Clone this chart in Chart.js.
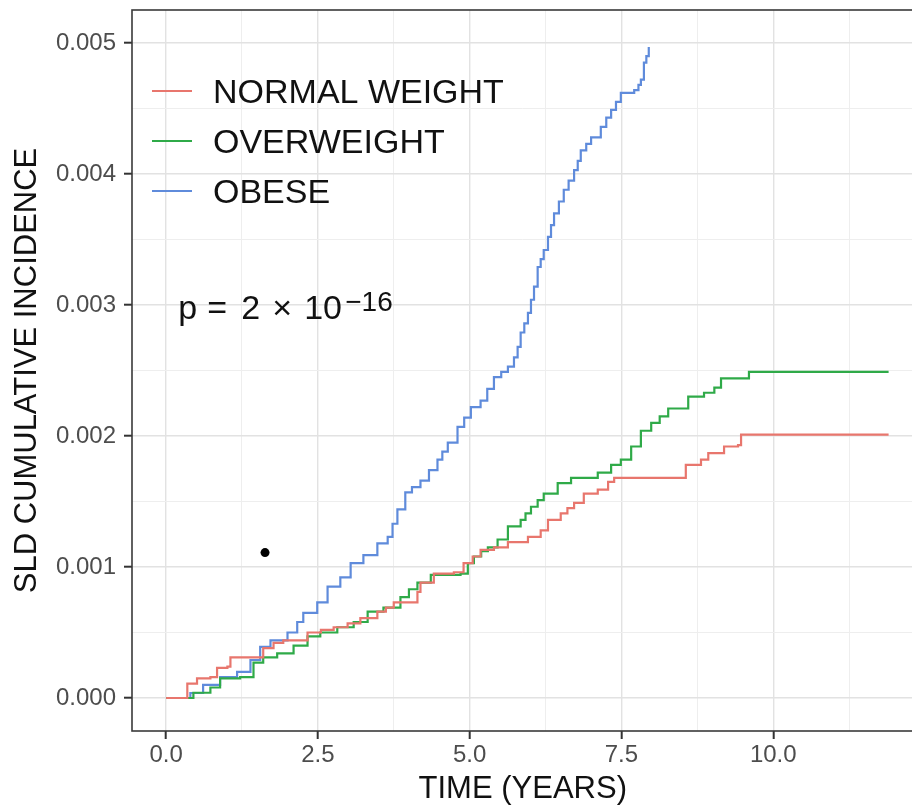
<!DOCTYPE html>
<html>
<head>
<meta charset="utf-8">
<script src="https://cdn.jsdelivr.net/npm/chart.js@4.4.1/dist/chart.umd.min.js"></script>
<style>
  html, body { margin: 0; padding: 0; background: #fff; overflow: hidden; }
  /* panel runs past the right edge, as in the cropped original */
  #wrap { width: 912px; height: 809px; overflow: hidden; }
</style>
</head>
<body>
<div id="wrap"><canvas id="sldChart" width="918" height="809"></canvas></div>
<script>
// ---- data ----
const groups = ['NORMAL WEIGHT', 'OVERWEIGHT', 'OBESE'];

const normalTime = [0, 0.35, 0.51, 0.73, 0.84, 1.01, 1.06, 1.60, 1.77, 1.93, 2.33, 2.55, 2.76, 2.99, 3.20, 3.48, 3.62, 3.75,
  4.14, 4.19, 4.41, 4.74, 4.90, 5.05, 5.18, 5.40, 5.63, 5.96, 6.17, 6.29, 6.50, 6.61, 6.72, 6.88, 7.11, 7.28, 7.38,
  8.56, 8.81, 8.93, 9.19, 9.42, 9.47, 11.90];
const normalInc = [0, 0.00011, 0.00015, 0.00016, 0.00023, 0.00024, 0.00031, 0.00038, 0.00042, 0.00044, 0.00050,
  0.00052, 0.00054, 0.00057, 0.00061, 0.00066, 0.00069, 0.00073, 0.00081, 0.00088, 0.00095, 0.00096, 0.00103, 0.00108,
  0.00113, 0.00115, 0.00119, 0.00123, 0.00128, 0.00136, 0.00141, 0.00145, 0.00149, 0.00156, 0.00159, 0.00165, 0.00168,
  0.00178, 0.00182, 0.00187, 0.00192, 0.00193, 0.00201, 0.00201];

const overTime = [0, 0.45, 0.73, 0.89, 1.22, 1.44, 1.60, 1.83, 2.10, 2.33, 2.54, 2.82, 3.09, 3.32, 3.58, 3.86,
  4.00, 4.14, 4.36, 4.85, 4.97, 5.07, 5.19, 5.30, 5.46, 5.63, 5.84, 5.92, 6.01, 6.12, 6.22, 6.45, 6.67, 7.11, 7.33,
  7.49, 7.66, 7.82, 7.99, 8.13, 8.27, 8.60, 8.86, 9.03, 9.14, 9.60, 11.90];
const overInc = [0, 0.00004, 0.00008, 0.00015, 0.00016, 0.00027, 0.00031, 0.00034, 0.00040, 0.00047, 0.00050,
  0.00054, 0.00058, 0.00066, 0.00069, 0.00077, 0.00083, 0.00088, 0.00094, 0.00095, 0.00103, 0.00108, 0.00112,
  0.00115, 0.00121, 0.00131, 0.00136, 0.00141, 0.00146, 0.00151, 0.00156, 0.00164, 0.00168, 0.00172, 0.00178,
  0.00182, 0.00192, 0.00204, 0.00210, 0.00215, 0.00221, 0.00230, 0.00233, 0.00237, 0.00244, 0.00249, 0.00249];

const obeseTime = [0, 0.40, 0.61, 0.89, 1.17, 1.39, 1.55, 1.72, 2.00, 2.16, 2.26, 2.49, 2.66, 2.87, 3.04, 3.25,
  3.48, 3.65, 3.73, 3.81, 3.94, 4.05, 4.19, 4.33, 4.47, 4.55, 4.64, 4.80, 4.91, 5.02, 5.18, 5.29, 5.40, 5.52, 5.63,
  5.73, 5.79, 5.84, 5.90, 5.96, 6.01, 6.06, 6.12, 6.17, 6.22, 6.29, 6.34, 6.39, 6.47, 6.55, 6.63, 6.72, 6.78, 6.83,
  6.92, 7.00, 7.16, 7.25, 7.33, 7.41, 7.49, 7.71, 7.78, 7.82, 7.87, 7.91, 7.95];
const obeseInc = [0, 0.000038, 0.00010, 0.00016, 0.00020, 0.00029, 0.00039, 0.00044, 0.00050, 0.00058, 0.00065,
  0.00073, 0.00085, 0.00092, 0.00103, 0.00109, 0.00118, 0.00123, 0.00133, 0.00144, 0.00157, 0.00161, 0.00166,
  0.00174, 0.00182, 0.00188, 0.00195, 0.00207, 0.00214, 0.00222, 0.00227, 0.00236, 0.00245, 0.00249, 0.00253,
  0.00260, 0.00268, 0.00279, 0.00286, 0.00294, 0.00304, 0.00314, 0.00329, 0.00335, 0.00342, 0.00352, 0.00361,
  0.00370, 0.00379, 0.00388, 0.00395, 0.00403, 0.00410, 0.00418, 0.00423, 0.00428, 0.00436, 0.00443, 0.00449,
  0.00455, 0.00462, 0.00464, 0.00468, 0.00472, 0.00485, 0.00490, 0.00497];

// stray ink mark on the original figure
const strayTime = [1.63];
const strayInc = [0.00111];

const xMajorTicks = [0, 2.5, 5, 7.5, 10];
const xTickLabels = ['0.0', '2.5', '5.0', '7.5', '10.0'];
const xMinorTicks = [1.25, 3.75, 6.25, 8.75, 11.25];
const yMajorTicks = [0, 0.001, 0.002, 0.003, 0.004, 0.005];
const yTickLabels = ['0.000', '0.001', '0.002', '0.003', '0.004', '0.005'];
const yMinorTicks = [0.0005, 0.0015, 0.0025, 0.0035, 0.0045];

// where the p-value label sits (data coords of its baseline start)
const pText = { x: 0.2, y: 0.00289 };

// ---- styling ----
const FONT = "'Liberation Sans', Arial, Helvetica, sans-serif";
const colRed = '#E8766D';
const colGreen = '#2FAA48';
const colBlue = '#5F8BDB';

const toPoints = (ts, vs) => ts.map((t, i) => ({ x: t, y: vs[i] }));
const isMajor = (list, v) => list.some(m => Math.abs(m - v) < 1e-9);

function tickList(major, minor) {
  return major.concat(minor).sort((a, b) => a - b).map(v => ({ value: v }));
}

const gridStyle = (major) => ({
  color: ctx => isMajor(major, ctx.tick.value) ? '#E2E2E2' : '#EEEEEE',
  lineWidth: ctx => isMajor(major, ctx.tick.value) ? 1.4 : 1,
  tickColor: ctx => isMajor(major, ctx.tick.value) ? '#333333' : 'rgba(0,0,0,0)',
  tickWidth: 2,
  tickLength: 8,
  drawTicks: true
});

// panel border, legend and p-value text
const extras = {
  id: 'extras',
  afterDatasetsDraw(chart) {
    const { ctx, chartArea: a } = chart;
    ctx.save();
    ctx.strokeStyle = '#3a3a3a';
    ctx.lineWidth = 1.6;
    ctx.strokeRect(a.left, a.top, a.right - a.left, a.bottom - a.top);
    ctx.restore();
  },
  afterDraw(chart) {
    const { ctx, scales } = chart;
    ctx.save();
    // legend
    const rows = [103, 153, 203];
    chart.data.datasets.slice(0, 3).forEach((ds, i) => {
      const cy = rows[i] - 12;
      ctx.strokeStyle = ds.borderColor;
      ctx.lineWidth = 2;
      ctx.beginPath();
      ctx.moveTo(152, cy);
      ctx.lineTo(192, cy);
      ctx.stroke();
      ctx.fillStyle = '#111';
      ctx.font = '34px ' + FONT;
      ctx.textBaseline = 'alphabetic';
      ctx.textAlign = 'left';
      ctx.fillText(ds.label, 213, rows[i]);
    });
    // p-value, plotmath-like spacing
    const px = scales.x.getPixelForValue(pText.x);
    const py = scales.y.getPixelForValue(pText.y);
    ctx.fillStyle = '#111';
    ctx.font = '34px ' + FONT;
    [['p', 0], ['=', 29], ['2', 63], ['\u00D7', 94], ['10', 126]].forEach(([s, dx]) => {
      ctx.fillText(s, px + dx, py);
    });
    ctx.font = '28px ' + FONT;
    ctx.fillText('\u221216', px + 167, py - 8);
    ctx.restore();
  }
};

const lineDs = (label, ts, vs, color) => ({
  label: label,
  data: toPoints(ts, vs),
  borderColor: color,
  backgroundColor: color,
  borderWidth: 2.2,
  pointRadius: 0,
  stepped: true,
  fill: false
});

new Chart(document.getElementById('sldChart'), {
  type: 'line',
  data: {
    datasets: [
      lineDs(groups[0], normalTime, normalInc, colRed),
      lineDs(groups[1], overTime, overInc, colGreen),
      lineDs(groups[2], obeseTime, obeseInc, colBlue),
      {
        label: 'mark',
        type: 'scatter',
        data: toPoints(strayTime, strayInc),
        pointRadius: 4.5,
        pointBackgroundColor: '#000',
        pointBorderWidth: 0
      }
    ]
  },
  options: {
    responsive: false,
    animation: false,
    layout: { padding: { top: 10, right: 0, left: 0, bottom: 0 } },
    plugins: { legend: { display: false }, tooltip: { enabled: false } },
    scales: {
      x: {
        type: 'linear',
        min: -0.561,
        max: 12.31,
        afterBuildTicks: s => { s.ticks = tickList(xMajorTicks, xMinorTicks); },
        afterFit: s => { s.height = 78; s.paddingLeft = 0; s.paddingRight = 0; },
        grid: gridStyle(xMajorTicks),
        border: { display: false },
        ticks: {
          autoSkip: false,
          maxRotation: 0,
          padding: 2,
          color: '#4D4D4D',
          font: { family: FONT, size: 24 },
          callback: v => {
            const i = xMajorTicks.findIndex(m => Math.abs(m - v) < 1e-9);
            return i >= 0 ? xTickLabels[i] : '';
          }
        },
        title: {
          display: true,
          text: 'TIME (YEARS)',
          color: '#111',
          font: { family: FONT, size: 31 },
          padding: { top: 0, bottom: 1 }
        }
      },
      y: {
        type: 'linear',
        min: -0.000252,
        max: 0.005252,
        afterBuildTicks: s => { s.ticks = tickList(yMajorTicks, yMinorTicks); },
        afterFit: s => { s.width = 132; s.paddingTop = 0; s.paddingBottom = 0; },
        grid: gridStyle(yMajorTicks),
        border: { display: false },
        ticks: {
          autoSkip: false,
          padding: 8,
          color: '#4D4D4D',
          font: { family: FONT, size: 24 },
          callback: v => {
            const i = yMajorTicks.findIndex(m => Math.abs(m - v) < 1e-12);
            return i >= 0 ? yTickLabels[i] : '';
          }
        },
        title: {
          display: true,
          text: 'SLD CUMULATIVE INCIDENCE',
          color: '#111',
          font: { family: FONT, size: 31 },
          padding: { top: 9, bottom: 0 }
        }
      }
    }
  },
  plugins: [extras]
});
</script>
</body>
</html>
